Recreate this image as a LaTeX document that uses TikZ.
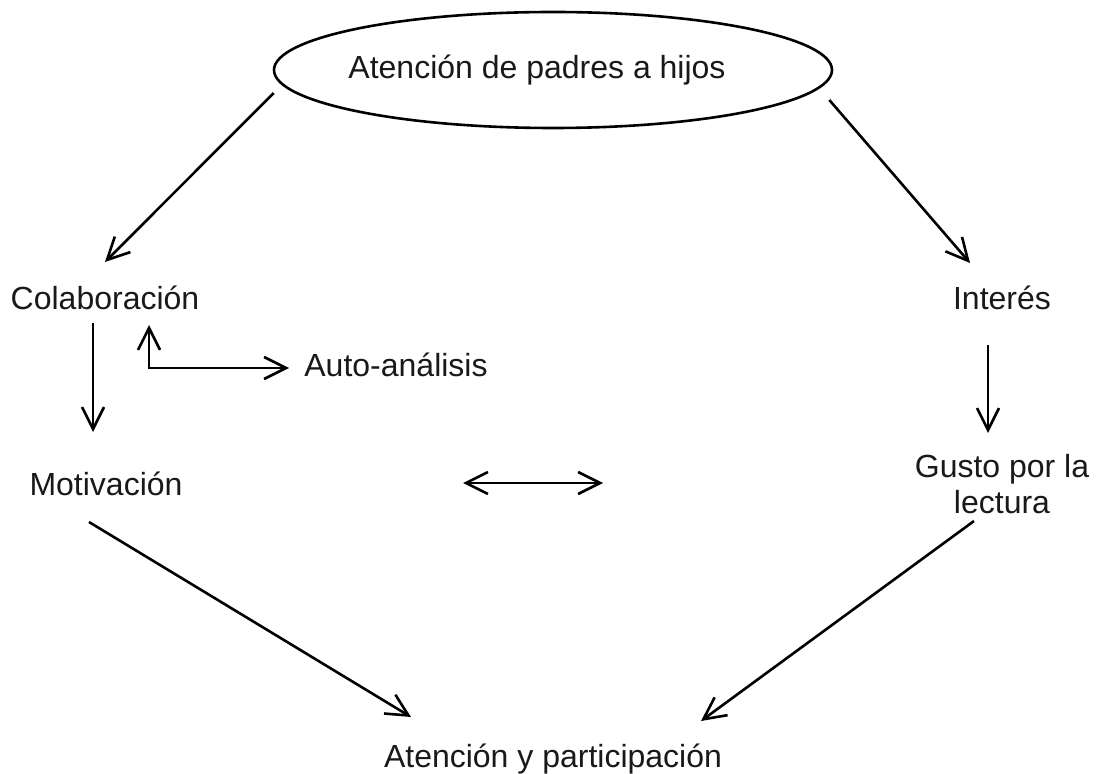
\documentclass[tikz,border=0pt]{standalone}
\usepackage{fontspec}
\setmainfont{Liberation Sans}
\usetikzlibrary{arrows.meta,shapes.geometric,calc}

\begin{document}
\begin{tikzpicture}[x=0.5pt,y=-0.5pt,
  every node/.style={font=\fontsize{16}{18}\selectfont, inner sep=0pt, text=black!90},
  flecha/.style={-{Straight Barb[length=11pt,width=11pt]}, line width=1.3pt},
  doble/.style={{Straight Barb[length=11pt,width=11pt]}-{Straight Barb[length=11pt,width=11pt]}, line width=1.3pt}]

\useasboundingbox (0,0) rectangle (1096,774);

\def\xl{105}; % left column
\def\xr{1002}; % right column
\def\xm{553}; % middle

% top
\node[draw, ellipse, line width=1.3pt, inner xsep=-20pt, minimum width=279pt, minimum height=58pt] (padres) at (\xm,70) {Atención de padres a hijos\hspace*{16pt}};

% left column
\node[anchor=base] (colab) at (\xl,310) {Colaboración};
\node[anchor=base] (auto) at (396,377) {Auto-análisis};
\node[anchor=base] (motiv) at (106,495) {Motivación};

% right column
\node[anchor=base] (interes) at (\xr,310) {Interés};
\node[anchor=base, align=center] (gusto) at (\xr,513) {Gusto por la\\lectura};

% bottom
\node[anchor=base] (part) at (\xm,767) {Atención y participación};

\coordinate (izq) at (463,483);
\coordinate (der) at (603,483);

\draw[flecha] ($(padres.west)+(1,23)$) -- ($(colab.base)+(0,-48)$);
\draw[flecha] ($(padres.east)+(-4,30)$) -- ($(interes.base)+(-32,-47)$);

\draw[flecha] ($(colab.base)+(-12,13)$) -- ($(motiv.base)+(-13,-63)$);
\draw[doble] ($(colab.base)+(44,15)$) |- ($(auto.base west)+(-15,-9)$);

\draw[flecha] ($(interes.base)+(-14,35)$) -- ($(gusto.base)+(-14,-80)$);

\draw[doble] (izq) -- (der);

\draw[flecha] ($(motiv.base)+(-17,27)$) -- ($(part.base)+(-142,-50)$);
\draw[flecha] ($(gusto.base)+(-28,8)$) -- ($(part.base)+(148,-46)$);

\end{tikzpicture}
\end{document}
